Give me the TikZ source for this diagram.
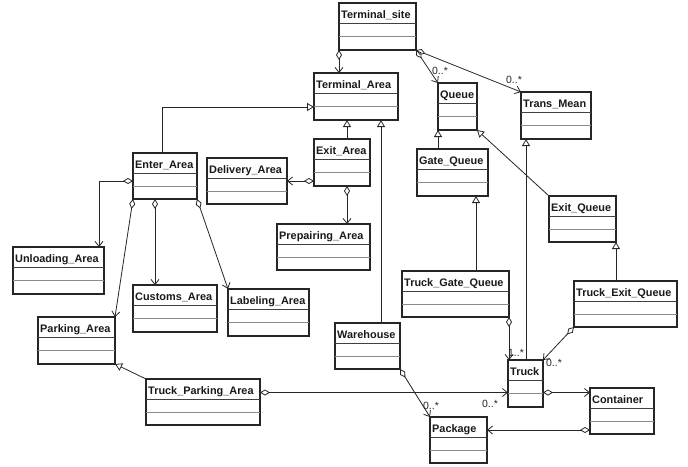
\documentclass[tikz,border=0pt]{standalone}
\usepackage{fontspec}
\setmainfont{Liberation Sans}
\usetikzlibrary{arrows.meta,calc}

\tikzset{
  classbox/.style={draw=black!85, line width=1.2pt, fill=white, rectangle,
    inner sep=0pt, outer sep=0pt, anchor=north west},
  classname/.style={font=\bfseries\fontsize{10.9}{12}\selectfont, inner sep=0pt,
    anchor=base west, text=black!90},
  titleline/.style={draw=black!75, line width=0.8pt},
  compline/.style={draw=black!45, line width=0.8pt},
  link/.style={draw=black!85, line width=0.8pt},
  agg/.style={link, {Diamond[open,length=10pt,width=6pt]}-{Straight Barb[length=5pt,width=8pt]}},
  inherit/.style={link, -{Triangle[open,length=7pt,width=8pt,fill=white]}},
  mult/.style={font=\fontsize{10.5}{12}\selectfont, inner sep=0pt, text=black!85},
}

% \umlclass{name}{x}{y}{width}{height}{title}: a class with three compartments
\newcommand\umlclass[6]{%
  \node[classbox, minimum width=#4pt, minimum height=#5pt] (#1) at (#2,#3) {};
  \draw[titleline] ($(#1.north west)+(0,20)$) -- ($(#1.north east)+(0,20)$);
  \draw[compline] ($(#1.north west)+(0,33)$) -- ($(#1.north east)+(0,33)$);
  \node[classname] (#1-name) at ($(#1.north west)+(2,15)$) {#6};
}

\begin{document}
\begin{tikzpicture}[x=1pt,y=-1pt]
\useasboundingbox[fill=white] (0,0) rectangle (688,466);

% classes
\umlclass{site}{339}{3}{77}{47}{Terminal\_site}
\umlclass{tarea}{314}{73}{84}{47}{Terminal\_Area}
\umlclass{queue}{438}{83}{39}{47}{Queue}
\umlclass{trans}{521}{92}{70}{47}{Trans\_Mean}
\umlclass{enter}{133}{153}{64}{46}{Enter\_Area}
\umlclass{exit}{314}{139}{56}{47}{Exit\_Area}
\umlclass{delivery}{207}{158}{80}{46}{Delivery\_Area}
\umlclass{prep}{277}{224}{93}{46}{Prepairing\_Area}
\umlclass{unload}{13}{247}{91}{47}{Unloading\_Area}
\umlclass{customs}{133}{285}{84}{47}{Customs\_Area}
\umlclass{labeling}{228}{289}{81}{47}{Labeling\_Area}
\umlclass{parking}{38}{317}{77}{47}{Parking\_Area}
\umlclass{tpa}{146}{379}{114}{46}{Truck\_Parking\_Area}
\umlclass{wh}{335}{323}{65}{46}{Warehouse}
\umlclass{gate}{417}{149}{71}{47}{Gate\_Queue}
\umlclass{exitq}{549}{196}{67}{46}{Exit\_Queue}
\umlclass{tgq}{402}{271}{107}{46}{Truck\_Gate\_Queue}
\umlclass{teq}{574}{281}{103}{46}{Truck\_Exit\_Queue}
\umlclass{truck}{508}{360}{35}{47}{Truck}
\umlclass{container}{590}{388}{64}{46}{Container}
\umlclass{package}{430}{417}{57}{46}{Package}

% helper points on the class borders
\coordinate (ex1) at ($(exit.north west)+(33,0)$);
\coordinate (wh1) at ($(wh.north west)+(46,0)$);
\coordinate (en0) at ($(enter.north west)+(29,0)$);
\coordinate (en1) at ($(enter.north west)+(0,28)$);
\coordinate (un1) at ($(unload.north west)+(86,0)$);
\coordinate (cu1) at ($(enter.south west)+(22,0)$);
\coordinate (ta1) at ($(tarea.south west)+(0,-13)$);
\coordinate (tr1) at ($(truck.north west)+(18,0)$);
\coordinate (tg1) at ($(tgq.north west)+(74,0)$);
\coordinate (tp1) at ($(tpa.north east)+(0,13.5)$);
\coordinate (tk1) at ($(truck.north east)+(0,32.5)$);
\coordinate (co1) at ($(container.north west)+(0,42)$);

% generalizations
\draw[inherit] (en0) |- (ta1);
\draw[inherit] (ex1) -- (ex1 |- tarea.south);
\draw[inherit] (wh1) -- (wh1 |- tarea.south);
\draw[inherit] (gate.north -| queue.south west) -- (queue.south west);
\draw[inherit] (exitq.north west) -- (queue.south east);
\draw[inherit] (tr1) -- (tr1 |- trans.south);
\draw[inherit] (tg1) -- (tg1 |- gate.south);
\draw[inherit] (teq.north -| exitq.south east) -- (exitq.south east);
\draw[inherit] (tpa.north west) -- (parking.south east);

% aggregations
\draw[agg] (site.south west) -- (site.south west |- tarea.north);
\draw[agg] (site.south east) -- (queue.north west);
\draw[agg] (site.south east) -- (trans.north west);
\draw[agg] (delivery.east -| exit.west) -- (delivery.east);
\draw[agg] (ex1 |- exit.south) -- (ex1 |- prep.north);
\draw[agg] (en1) -| (un1);
\draw[agg] (enter.south west) -- (parking.north east);
\draw[agg] (cu1) -- (cu1 |- customs.north);
\draw[agg] (enter.south east) -- (labeling.north west);
\draw[agg] (tgq.south east) -- (tgq.south east |- truck.north);
\draw[agg] (teq.south west) -- (truck.north east);
\draw[agg] (tp1) -- (tp1 -| truck.west);
\draw[agg] (wh.south east) -- (package.north west);
\draw[agg] (tk1) -- (tk1 -| container.west);
\draw[agg] (co1) -- (co1 -| package.east);

% multiplicities
\node[mult] (m1) at (440,71) {0..*};
\node[mult] (m2) at (514,80) {0..*};
\node[mult] (m3) at (516,353) {1..*};
\node[mult] (m4) at (554,363) {0..*};
\node[mult] (m5) at (490,404) {0..*};
\node[mult] (m6) at (431,406) {0..*};
\end{tikzpicture}
\end{document}
